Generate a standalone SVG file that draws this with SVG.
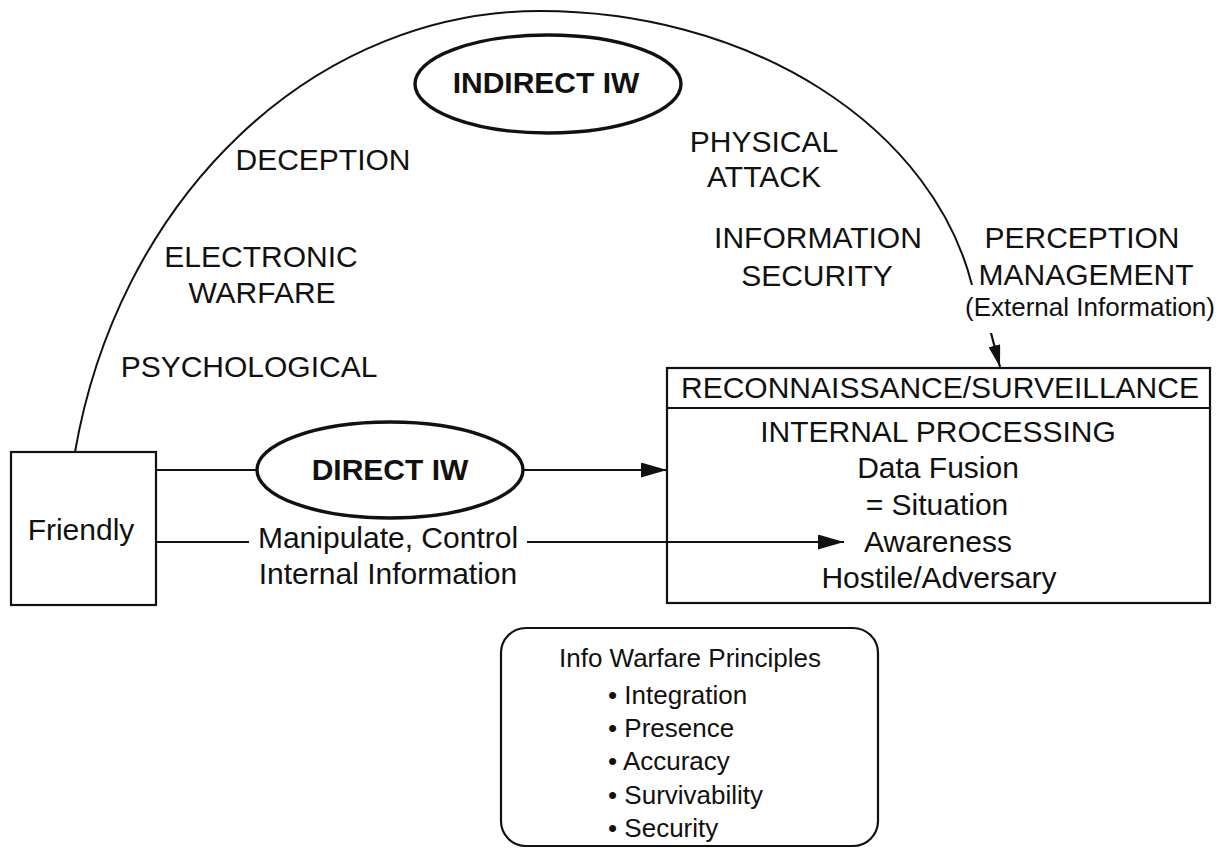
<svg xmlns="http://www.w3.org/2000/svg" width="1227" height="848" viewBox="0 0 1227 848">
  <style>
    text { font-family: "Liberation Sans", Arial, sans-serif; fill: #111; }
    .lbl { font-size: 30px; text-anchor: middle; }
    .big { font-size: 30px; text-anchor: middle; font-weight: bold; }
    .sm { font-size: 26px; text-anchor: middle; }
    .pr { font-size: 26px; }
    .box { fill: #fff; stroke: #111; stroke-width: 2.2; }
    .oval { fill: #fff; stroke: #111; stroke-width: 3.4; }
    .wire { fill: none; stroke: #111; stroke-width: 2.2; }
    .arc { fill: none; stroke: #111; stroke-width: 2; }
  </style>
  <defs>
    <marker id="head" viewBox="0 0 26 15" refX="26" refY="7.5" markerWidth="26" markerHeight="15" markerUnits="userSpaceOnUse" orient="auto">
      <path d="M0,0 L26,7.5 L0,15 Z" fill="#111"/>
    </marker>
    <marker id="head-sm" viewBox="0 0 22 12" refX="22" refY="6" markerWidth="22" markerHeight="12" markerUnits="userSpaceOnUse" orient="auto">
      <path d="M0,0 L22,6 L0,12 Z" fill="#111"/>
    </marker>
  </defs>
  <rect width="1227" height="848" fill="#fff"/>

  <g id="indirect-iw">
    <ellipse class="oval" cx="548" cy="84" rx="133" ry="49"/>
    <text class="big" x="546" y="93">INDIRECT IW</text>
  </g>

  <g id="indirect-labels">
    <text class="lbl" x="323" y="170">DECEPTION</text>
    <text class="lbl" x="261" y="267">ELECTRONIC</text>
    <text class="lbl" x="262" y="303">WARFARE</text>
    <text class="lbl" x="249" y="377">PSYCHOLOGICAL</text>
    <text class="lbl" x="764" y="152">PHYSICAL</text>
    <text class="lbl" x="764" y="187">ATTACK</text>
    <text class="lbl" x="818" y="248">INFORMATION</text>
    <text class="lbl" x="817" y="286">SECURITY</text>
  </g>

  <g id="perception-management">
    <text class="lbl" x="1082" y="248">PERCEPTION</text>
    <text class="lbl" x="1086" y="285">MANAGEMENT</text>
    <text class="sm" x="1090" y="316">(External Information)</text>
  </g>

  <g id="friendly">
    <rect class="box" x="11" y="452" width="145" height="153"/>
    <text class="lbl" x="81" y="540">Friendly</text>
  </g>

  <g id="direct-iw">
    <ellipse class="oval" cx="390" cy="470" rx="133" ry="48"/>
    <text class="big" x="390" y="480">DIRECT IW</text>
  </g>

  <g id="manipulate-label">
    <text class="lbl" x="388" y="548">Manipulate, Control</text>
    <text class="lbl" x="388" y="584">Internal Information</text>
  </g>

  <g id="adversary">
    <rect class="box" x="667" y="368" width="543" height="235"/>
    <line class="wire" x1="667" y1="408" x2="1210" y2="408"/>
    <text class="lbl" x="940" y="398">RECONNAISSANCE/SURVEILLANCE</text>
    <text class="lbl" x="938" y="442">INTERNAL PROCESSING</text>
    <text class="lbl" x="938" y="478">Data Fusion</text>
    <text class="lbl" x="937" y="515">= Situation</text>
    <text class="lbl" x="938" y="552">Awareness</text>
    <text class="lbl" x="939" y="588">Hostile/Adversary</text>
  </g>

  <g id="principles">
    <rect class="box" x="501" y="628" width="377" height="218" rx="25" ry="25"/>
    <text class="pr" x="690" y="667" text-anchor="middle">Info Warfare Principles</text>
    <text class="pr" x="608" y="704">• Integration</text>
    <text class="pr" x="608" y="737">• Presence</text>
    <text class="pr" x="608" y="770">• Accuracy</text>
    <text class="pr" x="608" y="804">• Survivability</text>
    <text class="pr" x="608" y="837">• Security</text>
  </g>

  <g id="connectors">
    <!-- outer indirect arc: rises from the Friendly box and drops toward perception management -->
    <path class="arc" d="M 75 452 A 474.5 549 0 0 1 540 11 A 440 339 0 0 1 972 285"/>
    <!-- direct path -->
    <line class="wire" x1="156" y1="470" x2="257" y2="470"/>
    <line class="wire" x1="523" y1="470" x2="667" y2="470" marker-end="url(#head)"/>
    <!-- manipulate / control path, running into the processing box -->
    <line class="wire" x1="156" y1="542" x2="249" y2="542"/>
    <line class="wire" x1="527" y1="542" x2="844" y2="542" marker-end="url(#head)"/>
    <!-- external information arrow -->
    <line class="wire" x1="991" y1="333" x2="1000" y2="367" marker-end="url(#head-sm)"/>
  </g>
</svg>
